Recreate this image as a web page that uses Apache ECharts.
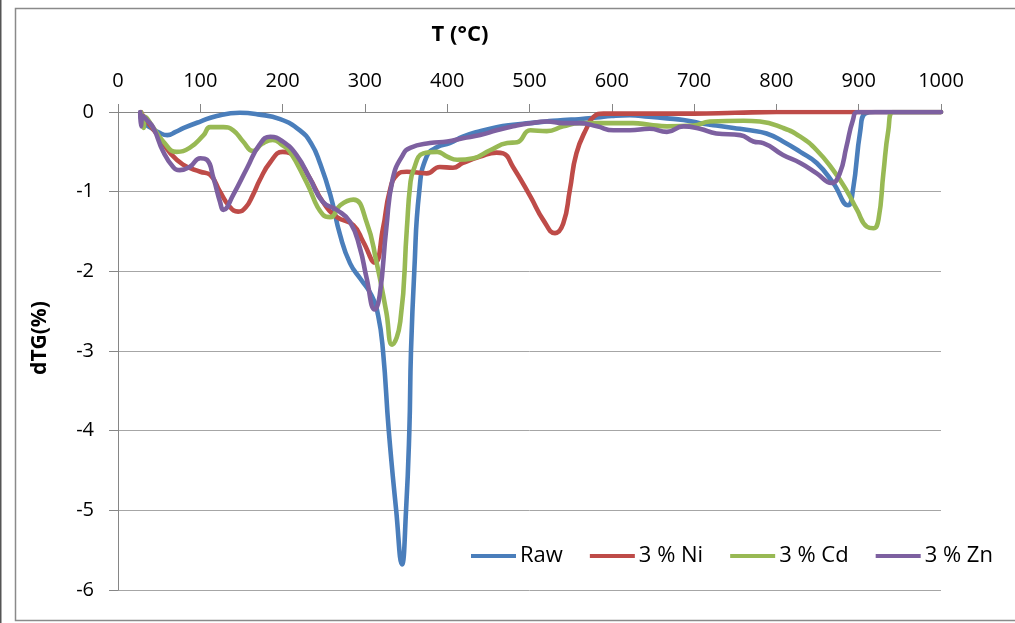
<!DOCTYPE html>
<html>
<head>
<meta charset="utf-8">
<script src="https://cdn.jsdelivr.net/npm/echarts@6/dist/echarts.min.js"></script>
<style>html,body{margin:0;padding:0;background:#fff;}#c{width:1015px;height:623px;}</style>
</head>
<body>
<div id="c"></div>
<script>
const seriesNames = ['Raw', '3 % Ni', '3 % Cd', '3 % Zn'];
const xTicks = [0, 100, 200, 300, 400, 500, 600, 700, 800, 900, 1000];
const yTicks = [0, -1, -2, -3, -4, -5, -6];

const raw = [[27,-0.03],[30,-0.12],[40,-0.2],[50,-0.26],[60,-0.29],[70,-0.25],[80,-0.2],[100,-0.12],[120,-0.05],[148,-0.01],[170,-0.03],[197,-0.09],[221,-0.23],[235,-0.4],[245,-0.63],[258,-1.04],[270,-1.55],[282,-1.9],[295,-2.1],[308,-2.3],[316,-2.55],[322,-3.0],[329,-4.0],[338,-5.0],[345,-5.68],[350,-5.0],[354,-4.0],[356,-3.0],[360,-2.0],[366,-1.0],[375,-0.56],[388,-0.44],[403,-0.39],[419,-0.31],[440,-0.24],[460,-0.19],[480,-0.16],[500,-0.14],[520,-0.12],[541,-0.10],[560,-0.09],[582,-0.07],[600,-0.05],[622,-0.04],[645,-0.06],[667,-0.08],[687,-0.10],[707,-0.14],[727,-0.17],[748,-0.2],[768,-0.23],[788,-0.27],[808,-0.37],[829,-0.5],[849,-0.64],[869,-0.89],[887,-1.17],[893,-0.98],[902,-0.23],[908,-0.02],[920,0],[1000,0]];

const ni = [[28,0],[30,-0.04],[40,-0.18],[51,-0.33],[63,-0.51],[79,-0.66],[100,-0.75],[112,-0.79],[124,-1.0],[135,-1.18],[146,-1.25],[155,-1.2],[164,-1.04],[172,-0.86],[185,-0.63],[200,-0.5],[217,-0.58],[233,-0.83],[249,-1.13],[266,-1.32],[286,-1.42],[298,-1.63],[312,-1.89],[322,-1.46],[330,-1.0],[339,-0.79],[351,-0.75],[375,-0.77],[391,-0.69],[407,-0.7],[419,-0.64],[440,-0.56],[460,-0.51],[468,-0.52],[480,-0.69],[501,-1.06],[517,-1.36],[531,-1.52],[541,-1.4],[549,-0.98],[557,-0.52],[570,-0.19],[578,-0.06],[590,-0.02],[650,-0.02],[700,-0.02],[750,-0.01],[800,0],[1000,0]];

const cd = [[28,0],[30,-0.1],[31,-0.2],[33,-0.06],[43,-0.2],[55,-0.37],[71,-0.5],[87,-0.45],[104,-0.29],[112,-0.19],[128,-0.19],[140,-0.23],[152,-0.37],[164,-0.49],[175,-0.4],[188,-0.35],[200,-0.42],[209,-0.5],[229,-0.88],[249,-1.29],[258,-1.32],[270,-1.17],[286,-1.1],[302,-1.38],[314,-1.88],[326,-2.51],[333,-2.92],[343,-2.63],[351,-1.46],[355,-0.92],[359,-0.73],[371,-0.52],[388,-0.5],[400,-0.56],[412,-0.6],[432,-0.58],[452,-0.48],[473,-0.39],[485,-0.38],[501,-0.23],[521,-0.24],[541,-0.18],[561,-0.14],[582,-0.14],[606,-0.14],[626,-0.14],[646,-0.16],[667,-0.18],[699,-0.17],[719,-0.12],[760,-0.11],[780,-0.12],[808,-0.2],[829,-0.31],[849,-0.48],[869,-0.73],[885,-0.98],[898,-1.23],[910,-1.44],[918,-1.46],[924,-1.35],[930,-0.77],[936,-0.23],[942,0],[1000,0]];

const zn = [[27,0],[28,-0.18],[30,-0.05],[35,-0.1],[43,-0.2],[55,-0.5],[67,-0.69],[75,-0.73],[87,-0.69],[100,-0.58],[108,-0.6],[116,-0.83],[124,-1.13],[128,-1.23],[140,-1.04],[157,-0.7],[172,-0.41],[185,-0.31],[200,-0.37],[217,-0.54],[233,-0.83],[249,-1.13],[266,-1.23],[282,-1.38],[294,-1.71],[302,-2.08],[312,-2.48],[318,-2.3],[326,-1.46],[334,-0.83],[346,-0.54],[355,-0.45],[379,-0.39],[400,-0.37],[419,-0.33],[440,-0.29],[460,-0.23],[480,-0.18],[501,-0.14],[521,-0.12],[541,-0.14],[561,-0.14],[582,-0.18],[602,-0.23],[622,-0.23],[646,-0.21],[667,-0.25],[687,-0.18],[707,-0.21],[727,-0.27],[756,-0.29],[772,-0.37],[784,-0.39],[808,-0.54],[829,-0.64],[849,-0.77],[867,-0.89],[877,-0.77],[885,-0.44],[893,-0.1],[899,0],[1000,0]];

const colors = ['#4A7EBB', '#BE4B48', '#98B954', '#7D60A0'];
const allData = [raw, ni, cd, zn];
const FONT = 'Open Sans';

const chart = echarts.init(document.getElementById('c'), null, {renderer: 'canvas'});
chart.setOption({
  animation: false,
  backgroundColor: '#fff',
  color: colors,
  textStyle: {fontFamily: FONT},
  grid: {left: 118, right: 74, top: 112, bottom: 33, containLabel: false},
  graphic: [
    {type: 'rect', shape: {x: 15.5, y: 8.5, width: 1010, height: 612}, style: {fill: 'none', stroke: '#8a8a8a', lineWidth: 1.5}, silent: true},
    {type: 'rect', shape: {x: 0, y: 0, width: 1.5, height: 623}, style: {fill: '#555'}, silent: true},
    {type: 'text', x: 460, y: 35, style: {text: 'T (°C)', font: 'bold 22px "' + FONT + '"', fill: '#000', align: 'center', verticalAlign: 'middle'}},
    {type: 'text', x: 40, y: 338, rotation: Math.PI / 2, style: {text: 'dTG(%)', font: 'bold 21px "' + FONT + '"', fill: '#000', align: 'center', verticalAlign: 'middle'}}
  ],
  legend: {
    left: 471, top: 545, padding: 0,
    icon: 'rect', itemWidth: 45, itemHeight: 4, itemGap: 27,
    textStyle: {fontSize: 22, color: '#000', fontFamily: FONT, padding: [0, 0, 0, -1]},
    data: seriesNames
  },
  xAxis: {
    type: 'value', position: 'top', min: 0, max: 1000, interval: 100,
    axisLine: {show: true, lineStyle: {color: '#868686', width: 1}},
    axisTick: {show: true, inside: false, length: 8, lineStyle: {color: '#868686'}},
    axisLabel: {fontSize: 20, color: '#000', margin: 21, fontFamily: FONT,
      formatter: v => (xTicks.indexOf(v) >= 0 ? String(v) : '')},
    splitLine: {show: false}
  },
  yAxis: {
    type: 'value', min: -6, max: 0, interval: 1,
    axisLine: {show: true, lineStyle: {color: '#868686', width: 1}},
    axisTick: {show: true, inside: false, length: 9, lineStyle: {color: '#868686'}},
    axisLabel: {fontSize: 20, color: '#000', margin: 24, fontFamily: FONT,
      formatter: v => (yTicks.indexOf(v) >= 0 ? String(v) : '')},
    splitLine: {show: true, lineStyle: {color: '#a6a6a6', width: 1}}
  },
  series: seriesNames.map((n, i) => ({
    name: n, type: 'line', data: allData[i], showSymbol: false, symbol: 'none',
    smooth: 0.5,
    lineStyle: {width: 4.6, color: colors[i], cap: 'round', join: 'round'},
    z: 2 + i
  }))
});
</script>
</body>
</html>
